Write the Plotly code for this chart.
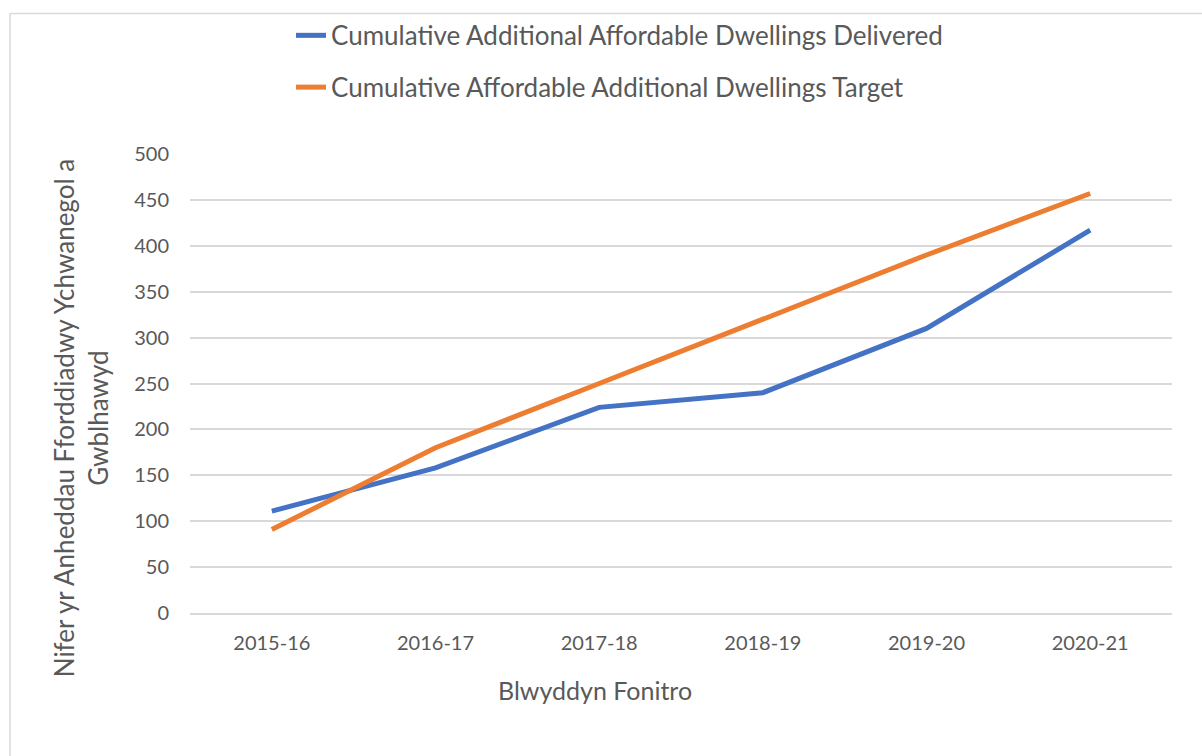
import plotly.graph_objects as go

# data
years = ["2015-16", "2016-17", "2017-18", "2018-19", "2019-20", "2020-21"]
delivered = [111, 158, 224, 240, 310, 417]
target = [91, 180, 250, 320, 390, 457]

delivered_name = "Cumulative Additional Affordable Dwellings Delivered"
target_name = "Cumulative Affordable Additional Dwellings Target"
y_title = "Nifer yr Anheddau Fforddiadwy Ychwanegol a<br>Gwblhawyd"
x_title = "Blwyddyn Fonitro"
y_ticks = [0, 50, 100, 150, 200, 250, 300, 350, 400, 450, 500]

W, H = 1202, 756
L, R, T, B = 190, 30, 151, 143
text_col = "#595959"
grid_col = "#d9d9d9"
font_family = "Lato, 'Open Sans', sans-serif"

fig = go.Figure()
fig.add_trace(go.Scatter(x=years, y=delivered, mode="lines", name=delivered_name,
                         line=dict(color="#4472c4", width=5), legendgroup="a"))
fig.add_trace(go.Scatter(x=years, y=target, mode="lines", name=target_name,
                         line=dict(color="#ed7d31", width=5), legendgroup="b"))

pw = W - L - R
ph = H - T - B
def px_x(x):
    return (x - L) / pw
def px_y(y):
    return (H - B - y) / ph

# chart border (top and left edges visible)
fig.add_shape(type="line", xref="paper", yref="paper",
              x0=px_x(10), x1=px_x(1210), y0=px_y(9.5), y1=px_y(9.5),
              line=dict(color="#d9d9d9", width=1.5))
fig.add_shape(type="line", xref="paper", yref="paper",
              x0=px_x(10), x1=px_x(10), y0=px_y(9.5), y1=px_y(770),
              line=dict(color="#d9d9d9", width=1.5))

# axis titles as annotations so they can sit off-centre like the original
fig.add_annotation(text=y_title, textangle=-90, showarrow=False,
                   xref="paper", yref="paper", x=px_x(81), y=px_y(417),
                   xanchor="center", yanchor="middle",
                   font=dict(size=26, color=text_col))
fig.add_annotation(text=x_title, showarrow=False,
                   xref="paper", yref="paper", x=px_x(595), y=px_y(690),
                   xanchor="center", yanchor="middle",
                   font=dict(size=25, color=text_col))

fig.update_layout(
    width=W, height=H,
    margin=dict(l=L, r=R, t=T, b=B),
    paper_bgcolor="white", plot_bgcolor="white",
    font=dict(family=font_family, color=text_col, size=20),
    legend=dict(x=px_x(291), y=px_y(8), xanchor="left", yanchor="top",
                orientation="v", font=dict(size=26, color=text_col),
                tracegroupgap=15, bgcolor="rgba(0,0,0,0)"),
    xaxis=dict(range=[-0.5, 5.5],
               showgrid=False, showline=True, linecolor=grid_col, linewidth=1.5,
               ticks="", ticklabelstandoff=11, tickfont=dict(size=20)),
    yaxis=dict(range=[0, 500], tickvals=y_ticks, showgrid=True,
               gridcolor=grid_col, gridwidth=1.5, zeroline=False,
               ticks="", ticklabelstandoff=20, tickfont=dict(size=20)),
    showlegend=True,
)

fig.write_html("out.html", config={"displayModeBar": False},
               post_script="document.body.style.margin='0';")
